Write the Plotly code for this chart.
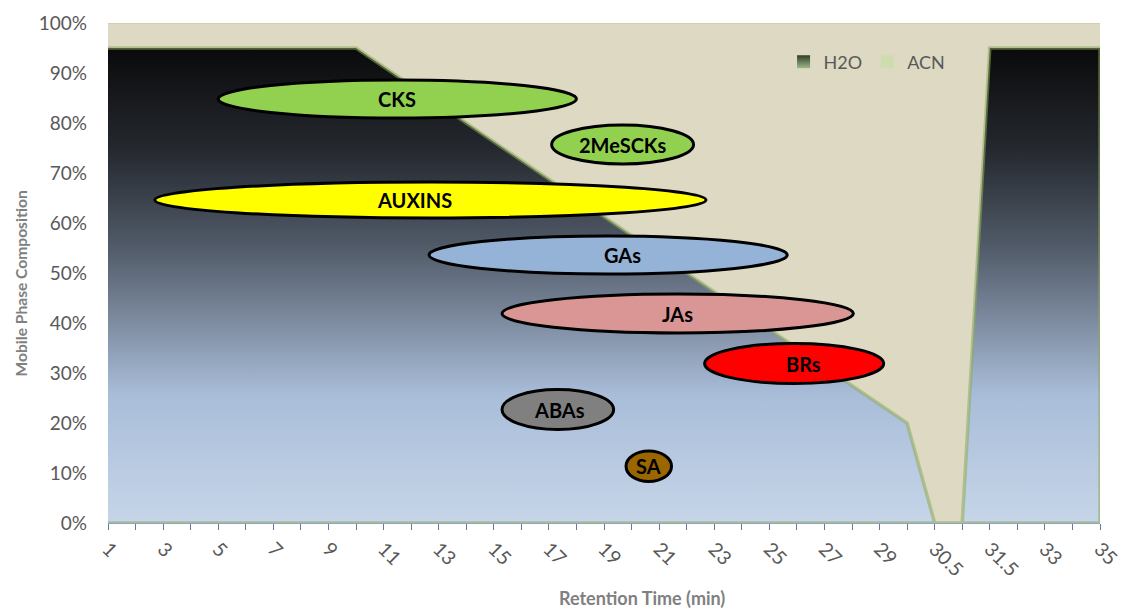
import numpy as np
import plotly.graph_objects as go

# Gradient program: retention time (min) vs. solvent share (%)
times = [1, 2, 3, 4, 5, 6, 7, 8, 9, 10, 11, 12, 13, 14, 15, 16, 17, 18, 19, 20,
         21, 22, 23, 24, 25, 26, 27, 28, 29, 30, 30.5, 31, 31.5, 32, 33, 34, 35]
h2o = [95, 95, 95, 95, 95, 95, 95, 95, 95, 95, 91.25, 87.5, 83.75, 80, 76.25,
       72.5, 68.75, 65, 61.25, 57.5, 53.75, 50, 46.25, 42.5, 38.75, 35, 31.25,
       27.5, 23.75, 20, 0, 0, 95, 95, 95, 95, 95]
acn = [5, 5, 5, 5, 5, 5, 5, 5, 5, 5, 8.75, 12.5, 16.25, 20, 23.75,
       27.5, 31.25, 35, 38.75, 42.5, 46.25, 50, 53.75, 57.5, 61.25, 65, 68.75,
       72.5, 76.25, 80, 100, 100, 5, 5, 5, 5, 5]
tick_labels = [1, 3, 5, 7, 9, 11, 13, 15, 17, 19, 21, 23, 25, 27, 29, 30.5, 31.5, 33, 35]

# Elution windows of the hormone classes
classes = ["CKS", "2MeSCKs", "AUXINS", "GAs", "JAs", "BRs", "ABAs", "SA"]
rt_start = [5.0, 17.1, 2.7, 12.65, 15.3, 22.65, 15.3, 19.8]
rt_end = [18.0, 22.25, 22.7, 25.65, 28.05, 29.15, 19.35, 21.45]
comp_low = [81.0, 71.8, 61.0, 49.8, 38.0, 27.9, 18.7, 8.3]
comp_high = [88.6, 79.6, 68.2, 57.4, 45.8, 35.9, 26.7, 14.4]
class_colors = ["#92D050", "#92D050", "#FFFF00", "#95B3D7", "#DA9694",
                "#FF0000", "#808080", "#996600"]
# horizontal nudge of each label inside its ellipse (px)
label_nudge = [0, 0, -16, 14, 0, 9, 2, 0]

FONT = "Lato"
GRAY = "#595959"

# Category-style axis: every time point gets an equal slot
pos = np.arange(len(times))
tick_text = [f"{t:g}" if t in tick_labels else "" for t in times]

def to_pos(t):
    return np.interp(t, times, pos)

acn_top = np.array(h2o) + np.array(acn)

fig = go.Figure()

# ACN band (stacked on top of H2O)
fig.add_trace(go.Scatter(
    x=pos, y=acn_top, mode="lines", fill="tozeroy",
    fillcolor="#DDD9C3", line=dict(color="rgba(190,205,150,0.7)", width=1.5),
    showlegend=False, hoverinfo="skip"))

# H2O area with vertical dark-to-light-blue gradient
poly_x = list(pos) + [pos[-1], pos[0]]
poly_y = list(h2o) + [0, 0]
fig.add_trace(go.Scatter(
    x=poly_x, y=poly_y, mode="lines", fill="toself",
    fillgradient=dict(
        type="vertical", start=0, stop=95,
        colorscale=[[0.0, "#C6D5E8"], [0.27, "#A9BDD9"], [0.42, "#7F8DA2"],
                    [0.58, "#515B69"], [0.79, "#24282E"], [1.0, "#0A0A0B"]]),
    line=dict(color="rgba(140,170,90,0.55)", width=3.5),
    showlegend=False, hoverinfo="skip"))

# Legend swatches
fig.add_trace(go.Scatter(
    x=[None], y=[None], mode="markers", name="H2O",
    marker=dict(symbol="square", size=13, color="#2F3D24",
                gradient=dict(type="vertical", color="#9DB88A"))))
fig.add_trace(go.Scatter(
    x=[None], y=[None], mode="markers", name="ACN",
    marker=dict(symbol="square", size=13, color="#CFDCAE")))

# Ellipses for each hormone class
x0s = to_pos(rt_start)
x1s = to_pos(rt_end)
for xa, xb, ya, yb, c in zip(x0s, x1s, comp_low, comp_high, class_colors):
    fig.add_shape(type="circle", xref="x", yref="y",
                  x0=xa, x1=xb, y0=ya, y1=yb,
                  fillcolor=c, line=dict(color="black", width=3),
                  layer="above")

label_x = (x0s + x1s) / 2
label_y = (np.array(comp_low) + np.array(comp_high)) / 2
annotations = [
    dict(text=f"<b>{c}</b>", x=lx, y=ly, xref="x", yref="y", showarrow=False,
         xanchor="center", yanchor="middle", xshift=dx,
         font=dict(family=FONT, size=20, color="black"))
    for c, lx, ly, dx in zip(classes, label_x, label_y, label_nudge)
]
annotations += [
    dict(text="<b>Retention Time (min)</b>", xref="paper", yref="paper",
         x=0.5385, y=-0.149, showarrow=False, xanchor="center",
         yanchor="middle", font=dict(family=FONT, size=18, color="#808080")),
    dict(text="<b>Mobile Phase Composition</b>", xref="paper", yref="paper",
         x=-0.088, y=0.4785, showarrow=False, textangle=-90,
         xanchor="center", yanchor="middle",
         font=dict(family=FONT, size=15.6, color="#808080")),
]

fig.update_layout(
    width=1123, height=608,
    margin=dict(l=107.5, r=23, t=23, b=84.5),
    paper_bgcolor="white", plot_bgcolor="white",
    font=dict(family=FONT, color=GRAY),
    xaxis=dict(range=[0, len(times) - 1], tickmode="array", tickvals=pos,
               ticktext=tick_text, tickangle=45, ticks="outside", ticklen=6,
               tickcolor="#5B7BAE", showline=True, linecolor="#8EA4C2",
               linewidth=1, showgrid=False, zeroline=False, automargin=False,
               tickfont=dict(family=FONT, size=19.5, color=GRAY)),
    yaxis=dict(range=[0, 100], tickmode="array",
               tickvals=list(range(0, 101, 10)),
               ticktext=[f"{v}%" for v in range(0, 101, 10)],
               ticks="", showline=False, showgrid=False, zeroline=False,
               ticklabelstandoff=20, automargin=False,
               tickfont=dict(family=FONT, size=19, color=GRAY)),
    legend=dict(orientation="h", x=0.681, y=0.922, xanchor="left",
                yanchor="middle", bgcolor="rgba(0,0,0,0)",
                font=dict(family=FONT, size=18, color=GRAY),
                itemwidth=30, entrywidth=0),
    annotations=annotations,
)

fig.write_html("out.html")
